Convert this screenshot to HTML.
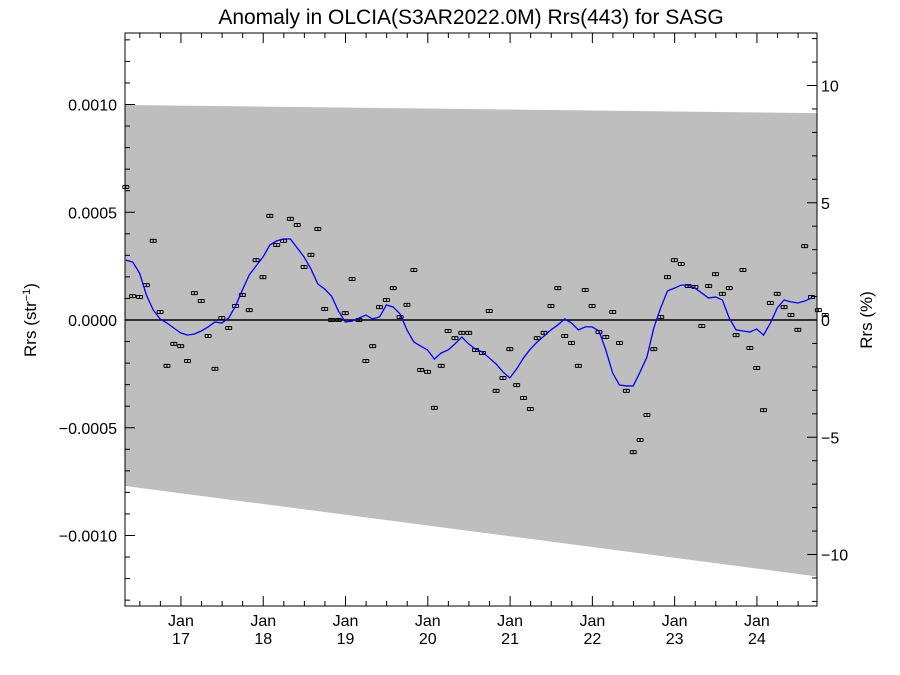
<!DOCTYPE html>
<html><head><meta charset="utf-8"><style>
body{margin:0;background:#fff}
svg{display:block;font-family:"Liberation Sans",sans-serif}
</style></head><body>
<svg id="chart" width="900" height="675">
<text x="471" y="24" font-size="21" text-anchor="middle">Anomaly in OLCIA(S3AR2022.0M) Rrs(443) for SASG</text>
<text transform="translate(36,320) rotate(-90)" font-size="17" text-anchor="middle">Rrs (str<tspan baseline-shift="super" font-size="11">−1</tspan>)</text>
<text transform="translate(872,320) rotate(-90)" font-size="17" text-anchor="middle">Rrs (%)</text>
<g id="plot"></g>
</svg>
<script>
// values in units of 1e-4 sr^-1, monthly starting ~May 2016
const startYear = 2016.33;
const scatterValues = [6.17,1.11,1.07,1.62,3.67,0.37,-2.13,-1.11,-1.21,-1.90,1.25,0.88,-0.74,-2.27,0.09,-0.37,0.65,1.16,0.46,2.78,1.99,4.83,3.48,3.67,4.69,4.41,2.46,3.02,4.22,0.51,0,0,0.32,1.90,0,-1.90,-1.21,0.60,0.93,1.48,0.14,0.70,2.32,-2.32,-2.41,-4.08,-2.13,-0.51,-0.84,-0.60,-0.60,-1.39,-1.53,0.42,-3.29,-2.69,-1.35,-3.02,-3.62,-4.13,-0.84,-0.60,0.65,1.48,-0.74,-1.07,-2.13,1.39,0.65,-0.56,-0.79,0.37,-1.07,-3.29,-6.13,-5.57,-4.41,-1.35,0.14,1.99,2.78,2.60,1.58,1.53,-0.28,1.58,2.13,1.21,1.48,-0.70,2.32,-1.30,-2.23,-4.18,0.79,1.21,0.60,0.23,-0.46,3.43,1.07,0.46,0.23];
const lineValues = [2.78,2.69,2.18,1.16,0.46,0.05,-0.14,-0.37,-0.60,-0.70,-0.65,-0.51,-0.32,-0.09,-0.14,0.09,0.65,1.39,2.09,2.51,2.92,3.48,3.67,3.76,3.76,3.34,2.92,2.37,1.67,1.44,1.11,0.42,-0.09,-0.05,0.09,0.23,0.05,0.14,0.70,0.60,0.28,-0.46,-1.02,-1.21,-1.39,-1.81,-1.53,-1.39,-1.11,-0.79,-1.11,-1.35,-1.48,-1.76,-2.04,-2.41,-2.69,-2.27,-1.76,-1.35,-1.02,-0.74,-0.46,-0.23,0.05,-0.14,-0.46,-0.32,-0.32,-0.51,-1.39,-2.46,-3.02,-3.06,-3.06,-2.41,-1.72,-0.37,0.56,1.35,1.48,1.62,1.62,1.48,1.25,1.02,1.07,0.93,0.09,-0.46,-0.51,-0.56,-0.42,-0.70,-0.14,0.56,0.93,0.84,0.79,0.88,1.02];
const bandTop = [9.98, 9.6];
const bandBottom = [-7.7, -11.9];
const leftTicks = [-10, -5, 0, 5, 10];
const leftTickLabels = ["−0.0010","−0.0005","0.0000","0.0005","0.0010"];
const rightTicks = [-10, -5, 0, 5, 10];
const rightTickLabels = ["−10","−5","0","5","10"];
const yearTicks = [2017,2018,2019,2020,2021,2022,2023,2024];
const yearLabels = ["17","18","19","20","21","22","23","24"];

const X0=125,X1=817,Y0=33,Y1=606;
const tMin=2016.32,tMax=2024.73;
const vMin=-13.27,vMax=13.32;
const xs=t=>X0+(t-tMin)/(tMax-tMin)*(X1-X0);
const ys=v=>320-v*21.55;
const yp=p=>320-p*23.45;
const NS="http://www.w3.org/2000/svg";
const g=document.getElementById('plot');
function mk(tag,attrs,parent){const e=document.createElementNS(NS,tag);for(const k in attrs)e.setAttribute(k,attrs[k]);(parent||g).appendChild(e);return e;}

const band=mk('polygon',{points:`${X0},${ys(bandTop[0])} ${X1},${ys(bandTop[1])} ${X1},${ys(bandBottom[1])} ${X0},${ys(bandBottom[0])}`,fill:'#bebebe'});



const zl=mk('line',{x1:X0,x2:X1,y1:ys(0),y2:ys(0),stroke:'#000','stroke-width':1.5});



scatterValues.forEach((v,i)=>{
  const x=xs(startYear+i/12),y=ys(v);
  const p=mk('path',{d:`M${x-3},${y-1.5}H${x+3}M${x-3},${y+1.5}H${x+3}M${x},${y-1.5}V${y+1.5}M${x-3},${y-1.5}V${y+1.5}M${x+3},${y-1.5}V${y+1.5}`,stroke:'#000','stroke-width':1,fill:'none'});
  
  
});

const ln=mk('polyline',{points:lineValues.map((v,i)=>`${xs(startYear+i/12)},${ys(v)}`).join(' '),fill:'none',stroke:'#0000ff','stroke-width':1.3});



const fr=mk('rect',{x:X0,y:Y0,width:X1-X0,height:Y1-Y0,fill:'none',stroke:'#000','stroke-width':1});



// left ticks
for(let v=-13;v<=13;v++){
  const y=ys(v);const major=v%5===0;
  mk('line',{x1:X0,x2:X0+(major?10:5),y1:y,y2:y,stroke:'#000'});
}
leftTicks.forEach((v,i)=>{
  const t=mk('text',{x:X0-8,y:ys(v)+6,'font-size':16,'text-anchor':'end'});t.textContent=leftTickLabels[i];
  
  
});
// right ticks
for(let p=-12;p<=12;p++){
  const y=yp(p);const major=p%5===0;
  mk('line',{x1:X1,x2:X1-(major?10:5),y1:y,y2:y,stroke:'#000'});
}
rightTicks.forEach((p,i)=>{
  const t=mk('text',{x:X1+4,y:yp(p)+6,'font-size':16});t.textContent=rightTickLabels[i];
  
  
});
// x ticks
for(let m=Math.ceil(tMin*4);m<=tMax*4;m++){
  const x=xs(m/4);const major=m%4===0;
  mk('line',{x1:x,x2:x,y1:Y1,y2:Y1-(major?10:5),stroke:'#000'});
  mk('line',{x1:x,x2:x,y1:Y0,y2:Y0+(major?10:5),stroke:'#000'});
}
yearTicks.forEach((yr,i)=>{
  const x=xs(yr);
  const a=mk('text',{x:x,y:626,'font-size':16,'text-anchor':'middle'});a.textContent='Jan';
  
  
  const b=mk('text',{x:x,y:644,'font-size':16,'text-anchor':'middle'});b.textContent=yearLabels[i];
  
  
});
</script>
</body></html>
